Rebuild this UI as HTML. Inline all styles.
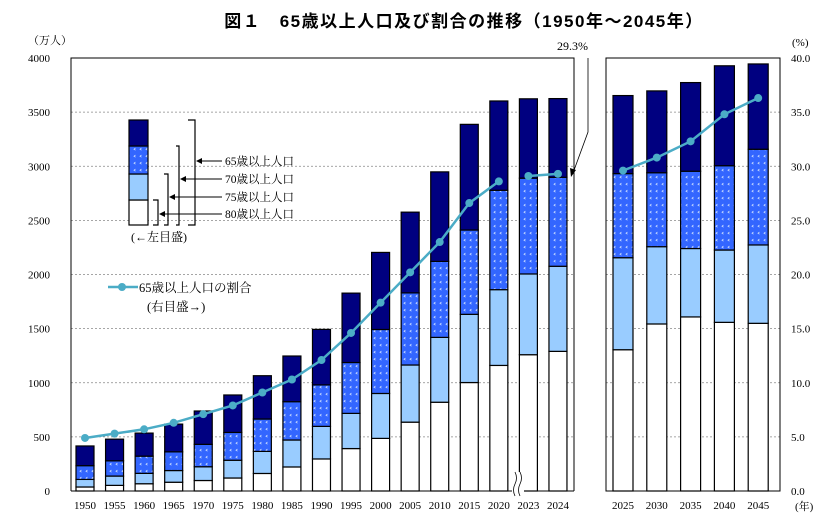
<!DOCTYPE html>
<html><head><meta charset="utf-8">
<style>
html,body{margin:0;padding:0;background:#fff;}
body{width:839px;height:515px;overflow:hidden;}
svg text{font-family:"Liberation Serif","Noto Serif CJK SC",serif;}
</style></head>
<body>
<svg id="chart" width="839" height="515" viewBox="0 0 839 515" xmlns="http://www.w3.org/2000/svg">
<defs>
<pattern id="dots" width="6" height="7" patternUnits="userSpaceOnUse">
<rect width="6" height="7" fill="#3366ff"/>
<path d="M3.5 1 L2 2.2 L3.5 3.2" stroke="#cfe0ff" stroke-width="0.8" fill="none"/>
</pattern>
</defs>
<text x="464" y="27" text-anchor="middle" font-size="17" font-weight="bold" letter-spacing="1.5" style="font-family:'Liberation Sans','Noto Sans CJK JP',sans-serif">図１　65歳以上人口及び割合の推移（1950年～2045年）</text>
<text x="28" y="44" font-size="11">（万人）</text>
<text x="792" y="46" font-size="11">(%)</text>
<text x="795" y="510" font-size="11">(年)</text>
<g id="grid"></g>
<g id="bars"></g>
<g id="line"></g>
<g id="axes"></g>
<g id="legend"></g>
<g>
<text x="557" y="50" font-size="12">29.3%</text>
<polyline points="588,58 588,132 573,173" fill="none" stroke="#000" stroke-width="0.8"/>
<polygon points="571,177 570,168 576,170" fill="#000"/>
</g>
<g>
<rect x="512" y="472" width="12" height="24" fill="#fff"/>
<path d="M515 472 q3 6 0 12 q-3 6 0 12 M520 472 q3 6 0 12 q-3 6 0 12" stroke="#000" stroke-width="0.8" fill="none"/>
</g>
</svg>
<script>
const yearsA = ["1950","1955","1960","1965","1970","1975","1980","1985","1990","1995","2000","2005","2010","2015","2020","2023","2024"];
const yearsB = ["2025","2030","2035","2040","2045"];
const pop65A = [416,479,535,618,739,887,1065,1247,1493,1828,2204,2576,2948,3387,3603,3623,3625];
const pop70A = [234,279,322,362,431,541,665,825,980,1187,1492,1830,2121,2411,2778,2890,2898];
const pop75A = [107,138,163,189,224,284,366,471,597,717,901,1164,1419,1632,1860,2005,2076];
const pop80A = [37,52,67,81,97,120,162,222,296,392,486,636,820,1002,1160,1259,1290];
const ratioA = [4.9,5.3,5.7,6.3,7.1,7.9,9.1,10.3,12.1,14.6,17.4,20.2,23.0,26.6,28.6,29.1,29.3];
const pop65B = [3653,3696,3773,3928,3945];
const pop70B = [2932,2940,2954,3005,3157];
const pop75B = [2155,2257,2240,2226,2273];
const pop80B = [1305,1543,1608,1558,1549];
const ratioB = [29.6,30.8,32.3,34.8,36.3];
const leftTicks = [0,500,1000,1500,2000,2500,3000,3500,4000];
const rightTicks = [0,5,10,15,20,25,30,35,40];

const NS="http://www.w3.org/2000/svg";
const Y0=491, Y1=58;
function yL(v){return Y0-(v/4000)*(Y0-Y1);}
function yR(v){return Y0-(v/40)*(Y0-Y1);}
function xA(i){return 85+i*29.56;}
function xB(i){return 623+i*33.8;}
function mk(parent,tag,attrs){const e=document.createElementNS(NS,tag);for(const k in attrs)e.setAttribute(k,attrs[k]);document.getElementById(parent)?document.getElementById(parent).appendChild(e):parent.appendChild(e);return e;}

// grid
leftTicks.forEach((t,i)=>{
  if(t>0&&t<4000){
    let g=mk("grid","line",{x1:71,x2:574,y1:yL(t),y2:yL(t),stroke:"#888","stroke-width":0.7,"stroke-dasharray":"2,2"});
    
    
    let g2=mk("grid","line",{x1:606,x2:780,y1:yL(t),y2:yL(t),stroke:"#888","stroke-width":0.7,"stroke-dasharray":"2,2"});
    
    
  }
  let tx=mk("axes","text",{x:50,y:yL(t)+4,"font-size":11,"text-anchor":"end"});
  tx.textContent=t;
  
  
});
rightTicks.forEach(t=>{
  let tx=mk("axes","text",{x:791,y:yR(t)+4,"font-size":11});
  tx.textContent=t.toFixed(1);
  
  
});
// frames
let f1=mk("axes","path",{d:"M71 491 L71 58 L574 58 L574 491",fill:"none",stroke:"#000","stroke-width":1});


let f1b=mk("axes","line",{x1:71,x2:574,y1:491,y2:491,stroke:"#000","stroke-width":1});


let f2=mk("axes","rect",{x:606,y:58,width:174,height:433,fill:"none",stroke:"#000","stroke-width":1});



function drawBars(years,p65,p70,p75,p80,xf,w){
  years.forEach((yr,i)=>{
    const cx=xf(i);
    const segs=[[0,p80[i],"#fff","bar-80plus"],[p80[i],p75[i],"#99ccff","bar-75-79"],[p75[i],p70[i],"url(#dots)","bar-70-74"],[p70[i],p65[i],"#000080","bar-65-69"]];
    segs.forEach(s=>{
      let r=mk("bars","rect",{x:cx-w/2,y:yL(s[1]),width:w,height:yL(s[0])-yL(s[1]),fill:s[2],stroke:"#000","stroke-width":1.2});
      
      
    });
    let t=mk("axes","text",{x:cx,y:509,"font-size":11,"text-anchor":"middle"});
    t.textContent=yr;
    
    
  });
}
drawBars(yearsA,pop65A,pop70A,pop75A,pop80A,xA,18);
drawBars(yearsB,pop65B,pop70B,pop75B,pop80B,xB,20);

function drawLine(vals,xf,name,from,to){
  const pts=[];
  for(let i=from;i<to;i++)pts.push(xf(i)+","+yR(vals[i]));
  let pl=mk("line","polyline",{points:pts.join(" "),fill:"none",stroke:"#4bacc6","stroke-width":2.5});
  
  
  for(let i=from;i<to;i++){
    let c=mk("line","circle",{cx:xf(i),cy:yR(vals[i]),r:4,fill:"#4bacc6"});
    
    
  }
}
drawLine(ratioA,xA,"ratio-line-historical",0,15);
drawLine(ratioA,xA,"ratio-line-recent",15,17);
drawLine(ratioB,xB,"ratio-line-projection",0,5);

// legend
const L=document.getElementById("legend");
[[225,200,"#fff","legend-swatch-80"],[200,174,"#99ccff","legend-swatch-75"],[174,146,"url(#dots)","legend-swatch-70"],[146,120,"#000080","legend-swatch-65"]].forEach(s=>{
  let r=mk(L,"rect",{x:129,y:s[1],width:19,height:s[0]-s[1],fill:s[2],stroke:"#000","stroke-width":1.2});
  
  
});
[[153,200,158,"80歳以上人口",214],[164,174,168,"75歳以上人口",197],[176,146,179,"70歳以上人口",179],[188,120,195,"65歳以上人口",161]].forEach(b=>{
  let p=mk(L,"path",{d:`M${b[0]} ${b[1]} H${b[2]} V225 H${b[0]}`,fill:"none",stroke:"#000","stroke-width":1.2});
  
  
  let a=mk(L,"line",{x1:b[2]+3,x2:222,y1:b[4],y2:b[4],stroke:"#000","stroke-width":0.9});
  
  
  let h=mk(L,"polygon",{points:`${b[2]+1},${b[4]} ${b[2]+7},${b[4]-3} ${b[2]+7},${b[4]+3}`,fill:"#000"});
  
  
  let t=mk(L,"text",{x:225,y:b[4]+4,"font-size":11.5});
  t.textContent=b[3];
  
  
});
let lt=mk(L,"text",{x:131,y:241,"font-size":12});
lt.textContent="(←左目盛)";


let ll=mk(L,"line",{x1:108,x2:138,y1:287,y2:287,stroke:"#4bacc6","stroke-width":2.5});


let lc=mk(L,"circle",{cx:122,cy:287,r:4,fill:"#4bacc6"});


let lr=mk(L,"text",{x:139,y:292,"font-size":12.5});
lr.textContent="65歳以上人口の割合";


let lr2=mk(L,"text",{x:147,y:311,"font-size":12.5});
lr2.textContent="(右目盛→)";


</script>
</body></html>
